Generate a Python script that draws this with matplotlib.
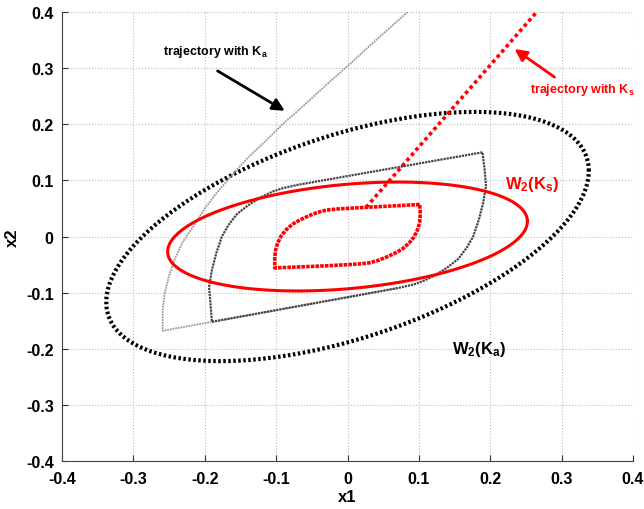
import numpy as np
import matplotlib
matplotlib.use('Agg')
import matplotlib.pyplot as plt

plt.rcParams['font.family'] = ['Liberation Sans', 'DejaVu Sans']
plt.rcParams['font.weight'] = 'bold'
plt.rcParams['mathtext.fontset'] = 'custom'
plt.rcParams['mathtext.rm'] = 'Liberation Sans:bold'
plt.rcParams['mathtext.it'] = 'Liberation Sans:bold'
plt.rcParams['mathtext.default'] = 'rm'

# ellipse W2(Ka): x = a*cos t, y = b*cos t + c*sin t
ellipse_ka = [0.338, 0.117, 0.1887]
# ellipse W2(Ks)
ellipse_ks = [0.252, 0.027, 0.0932]

# limit cycle reached with Ka (dark grey)
cycle_ka_x = [0.189, -0.070, -0.091, -0.105, -0.123, -0.140, -0.155, -0.167, -0.176, -0.184,
              -0.190, -0.194, -0.192, -0.190,
              0.070, 0.091, 0.105, 0.123, 0.140, 0.155, 0.167, 0.176, 0.184,
              0.190, 0.194, 0.192, 0.189]
cycle_ka_y = [0.150, 0.092, 0.086, 0.080, 0.069, 0.055, 0.040, 0.020, 0.000, -0.030,
              -0.060, -0.090, -0.120, -0.152,
              -0.092, -0.086, -0.080, -0.069, -0.055, -0.040, -0.020, 0.000, 0.030,
              0.060, 0.090, 0.120, 0.150]

# trajectory with Ka (light grey)
traj_ka_x = [0.084, 0.040, 0.003, -0.030, -0.060, -0.091, -0.115, -0.140, -0.165, -0.185,
             -0.200, -0.215, -0.231, -0.242, -0.250, -0.256, -0.259, -0.259, -0.190, 0.070]
traj_ka_y = [0.400, 0.350, 0.307, 0.270, 0.235, 0.200, 0.170, 0.140, 0.105, 0.075,
             0.050, 0.020, -0.010, -0.040, -0.070, -0.100, -0.130, -0.168, -0.152, -0.092]

# limit cycle reached with Ks (red)
cycle_ks_x = [0.101, 0.026, -0.015, -0.030, -0.042, -0.054, -0.066, -0.077, -0.086, -0.093,
              -0.098, -0.101, -0.102, -0.102,
              -0.026, 0.015, 0.030, 0.042, 0.054, 0.066, 0.077, 0.086, 0.093,
              0.098, 0.101, 0.102, 0.101]
cycle_ks_y = [0.057, 0.052, 0.049, 0.047, 0.043, 0.037, 0.030, 0.022, 0.012, 0.001,
              -0.012, -0.025, -0.040, -0.056,
              -0.052, -0.049, -0.047, -0.043, -0.037, -0.030, -0.022, -0.012, -0.001,
              0.012, 0.025, 0.040, 0.057]

# trajectory with Ks (red dashed)
traj_ks_x = [0.026, 0.265]
traj_ks_y = [0.052, 0.400]

ticks = [-0.4, -0.3, -0.2, -0.1, 0, 0.1, 0.2, 0.3, 0.4]
tick_labels = ['-0.4', '-0.3', '-0.2', '-0.1', '0', '0.1', '0.2', '0.3', '0.4']

fig = plt.figure(figsize=(6.44, 5.10), dpi=100)
ax = fig.add_axes([0.0963, 0.0941, 0.8867, 0.8804])

t = np.linspace(0, 2 * np.pi, 400)
ax.plot(ellipse_ka[0] * np.cos(t), ellipse_ka[1] * np.cos(t) + ellipse_ka[2] * np.sin(t),
        color='black', lw=3, linestyle=(0, (0.6, 0.6)))
ax.plot(traj_ka_x, traj_ka_y, color='#9a9a9a', lw=1.3, linestyle=(0, (1, 0.5)))
ax.plot(cycle_ka_x, cycle_ka_y, color='#444444', lw=1.6, linestyle=(0, (1, 0.4)))
ax.plot(ellipse_ks[0] * np.cos(t), ellipse_ks[1] * np.cos(t) + ellipse_ks[2] * np.sin(t),
        color='red', lw=2.2)
ax.plot(cycle_ks_x, cycle_ks_y, color='red', lw=2.6, linestyle=(0, (1, 0.3)))
ax.plot(traj_ks_x, traj_ks_y, color='red', lw=2.6, linestyle=(0, (1, 0.9)))

ax.text(-0.259, 0.331, 'trajectory with K$_a$', fontsize=9, color='black', va='center', ha='left')
ax.annotate('', xy=(-0.088, 0.224), xytext=(-0.182, 0.295),
            arrowprops=dict(arrowstyle='-|>', color='black', lw=2, mutation_scale=18,
                            shrinkA=0, shrinkB=0))
ax.text(0.255, 0.263, 'trajectory with K$_s$', fontsize=9, color='red', va='center', ha='left')
ax.annotate('', xy=(0.234, 0.334), xytext=(0.29, 0.284),
            arrowprops=dict(arrowstyle='-|>', color='red', lw=2, mutation_scale=18,
                            shrinkA=0, shrinkB=0))
ax.text(0.221, 0.094, 'W$_2$(K$_s$)', fontsize=12, color='red', va='center', ha='left')
ax.text(0.147, -0.200, 'W$_2$(K$_a$)', fontsize=12, color='black', va='center', ha='left')

ax.set_xlim(-0.4, 0.4)
ax.set_ylim(-0.4, 0.4)
ax.set_xticks(ticks)
ax.set_xticklabels(tick_labels)
ax.set_yticks(ticks)
ax.set_yticklabels(tick_labels)
ax.tick_params(direction='in', length=4, labelsize=11.5, colors='#333333')
ax.tick_params(axis='x', pad=7)
ax.tick_params(axis='y', pad=6)
ax.tick_params(axis='both', labelcolor='black')
ax.grid(True, color='#bbbbbb', linestyle=':', lw=0.8)
ax.spines['top'].set_visible(False)
ax.spines['right'].set_visible(False)
ax.spines['left'].set_color('#444444')
ax.spines['bottom'].set_color('#444444')
ax.set_xlabel('x1', fontsize=12, fontweight='bold', labelpad=2)
ax.set_ylabel('x2', fontsize=12, fontweight='bold', labelpad=4)

plt.savefig('out.png', dpi=100)
plt.close()
